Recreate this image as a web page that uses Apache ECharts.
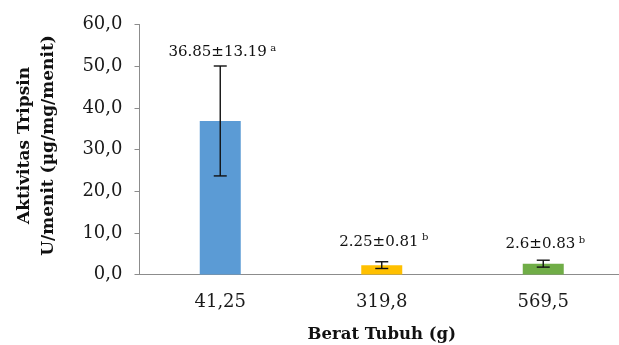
<!DOCTYPE html>
<html>
<head>
<meta charset="utf-8">
<script src="https://cdn.jsdelivr.net/npm/echarts@6/dist/echarts.min.js"></script>
<style>
  html, body { margin: 0; padding: 0; background: #fff; }
  #chart { width: 619px; height: 345px; }
</style>
</head>
<body>
<div id="chart"></div>
<script>
// Trypsin activity by body weight group (mean ± SD, significance letters)
var categories = ['41,25', '319,8', '569,5'];
var means = [36.85, 2.25, 2.6];
var sds = [13.19, 0.81, 0.83];
var letters = ['a', 'b', 'b'];
var yTicks = [0, 10, 20, 30, 40, 50, 60];

var barColors = ['#5B9BD5', '#FFC000', '#70AD47'];
var labelGap = [14, 20, 16];
var serif = '"DejaVu Serif", "Liberation Serif", serif';

var errData = means.map(function (m, i) {
  return [i, +(m - sds[i]).toFixed(2), +(m + sds[i]).toFixed(2)];
});

var chart = echarts.init(document.getElementById('chart'), null, { renderer: 'canvas' });

chart.setOption({
  animation: false,
  grid: { left: 139.5, right: -5, top: 24.5, bottom: 70.5, containLabel: false, outerBoundsMode: 'none' },
  xAxis: {
    type: 'category',
    data: categories,
    name: 'Berat Tubuh (g)',
    nameLocation: 'middle',
    nameGap: 52,
    nameTextStyle: { fontFamily: serif, fontWeight: 'bold', fontSize: 16.5, color: '#111' },
    axisLine: { lineStyle: { color: '#8c8c8c', width: 1 } },
    axisTick: { show: false },
    axisLabel: { fontFamily: serif, fontSize: 18, color: '#1a1a1a', margin: 19 }
  },
  yAxis: {
    type: 'value',
    min: yTicks[0],
    max: yTicks[yTicks.length - 1],
    interval: yTicks[1] - yTicks[0],
    name: 'Aktivitas Tripsin\nU/menit (µg/mg/menit)',
    nameLocation: 'middle',
    nameGap: 79,
    nameRotate: 90,
    nameTextStyle: { fontFamily: serif, fontWeight: 'bold', fontSize: 17, color: '#111', lineHeight: 24, align: 'center', padding: [0, 0, 0, 8] },
    splitLine: { show: false },
    axisLine: { show: true, lineStyle: { color: '#8c8c8c', width: 1 } },
    axisTick: { show: true, length: 5, lineStyle: { color: '#8c8c8c' } },
    axisLabel: {
      fontFamily: serif, fontSize: 18, color: '#1a1a1a', margin: 17,
      formatter: function (v) { return v.toFixed(1).replace('.', ','); }
    }
  },
  series: [
    {
      type: 'bar',
      barWidth: 41,
      data: means.map(function (m, i) {
        return { value: m, itemStyle: { color: barColors[i] } };
      })
    },
    {
      type: 'custom',
      z: 10,
      data: errData,
      renderItem: function (params, api) {
        var i = api.value(0);
        var lo = api.coord([i, api.value(1)]);
        var hi = api.coord([i, api.value(2)]);
        var half = 6.5;
        var st = { stroke: '#111', lineWidth: 1.4 };
        var idx = params.dataIndex;
        return {
          type: 'group',
          children: [
            { type: 'line', shape: { x1: hi[0], y1: hi[1], x2: lo[0], y2: lo[1] }, style: st },
            { type: 'line', shape: { x1: hi[0] - half, y1: hi[1], x2: hi[0] + half, y2: hi[1] }, style: st },
            { type: 'line', shape: { x1: lo[0] - half, y1: lo[1], x2: lo[0] + half, y2: lo[1] }, style: st },
            {
              type: 'text',
              x: hi[0] + 2,
              y: hi[1] - labelGap[idx],
              style: {
                text: '{v|' + means[idx] + '±' + sds[idx] + '} {s|' + letters[idx] + '}',
                align: 'center',
                verticalAlign: 'middle',
                rich: {
                  v: { fontFamily: serif, fontSize: 15, fill: '#111', color: '#111' },
                  s: { fontFamily: serif, fontSize: 10, fill: '#111', color: '#111', verticalAlign: 'top', padding: [0, 0, 8, 0] }
                }
              }
            }
          ]
        };
      }
    }
  ]
});
</script>
</body>
</html>
